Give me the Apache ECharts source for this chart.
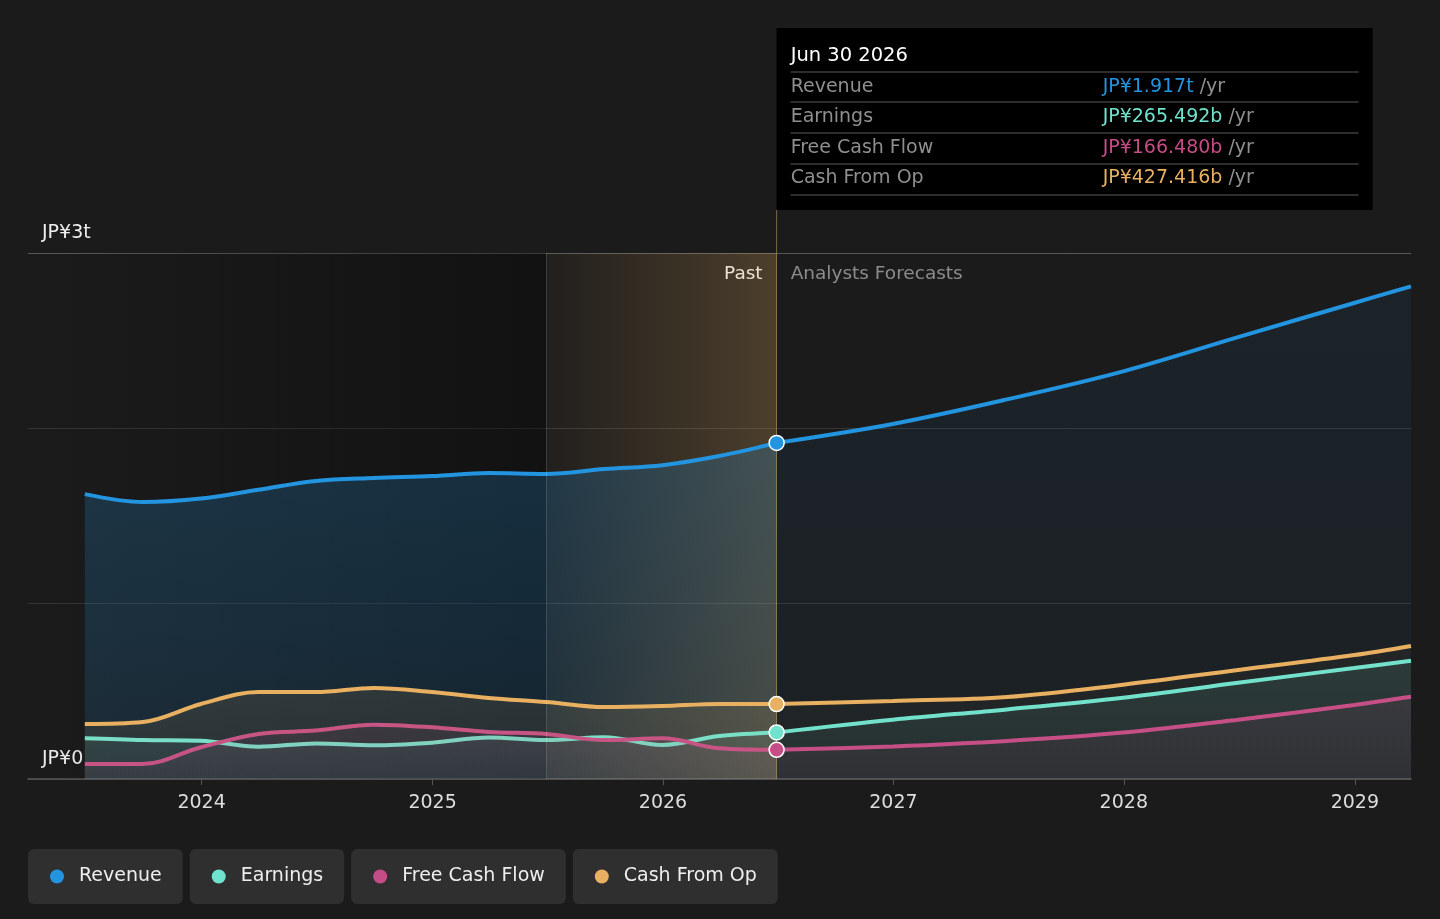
<!DOCTYPE html>
<html>
<head>
    <meta charset="utf-8">
    <title>Revenue / Earnings</title>
    <script src="https://cdn.jsdelivr.net/npm/echarts@6/dist/echarts.min.js"></script>
    <style>
        html, body { margin: 0; padding: 0; background: #1b1b1b; }
        #main { width: 1440px; height: 919px; }
    </style>
</head>
<body>
<div id="main"></div>
<script type="text/javascript">
    // 数据（单位：万亿日元）
    var dates = ['2023-06-30', '2023-09-30', '2023-12-31', '2024-03-31', '2024-06-30', '2024-09-30',
        '2024-12-31', '2025-03-31', '2025-06-30', '2025-09-30', '2025-12-31', '2026-03-31', '2026-06-30',
        '2026-12-31', '2027-06-30', '2027-12-31', '2028-06-30', '2028-12-31', '2029-03-31'];
    var revenue = [1.625, 1.58, 1.60, 1.65, 1.70, 1.717, 1.728, 1.745, 1.74, 1.768, 1.79, 1.842, 1.917,
        2.025, 2.165, 2.325, 2.52, 2.715, 2.81];
    var earnings = [0.232, 0.222, 0.218, 0.184, 0.203, 0.192, 0.207, 0.236, 0.222, 0.238, 0.194, 0.245, 0.265492,
        0.338, 0.397, 0.464, 0.549, 0.633, 0.675];
    var fcf = [0.086, 0.086, 0.181, 0.257, 0.276, 0.31, 0.295, 0.268, 0.257, 0.222, 0.232, 0.175, 0.16648,
        0.186, 0.217, 0.265, 0.338, 0.422, 0.469];
    var cfo = [0.314, 0.325, 0.428, 0.496, 0.496, 0.519, 0.496, 0.462, 0.439, 0.41, 0.416, 0.428, 0.427416,
        0.445, 0.468, 0.538, 0.622, 0.707, 0.759];
    var yearTicks = ['2024-01-01', '2025-01-01', '2026-01-01', '2027-01-01', '2028-01-01', '2029-01-01'];

    var names = ['Revenue', 'Earnings', 'Free Cash Flow', 'Cash From Op'];
    var colors = ['#2394df', '#6fe3cf', '#c44c87', '#e8b060'];
    var values = [revenue, earnings, fcf, cfo];
    var xMin = '2023-04-01', xMax = '2029-03-31';
    var highlightStart = '2025-06-30';
    var nowIdx = dates.indexOf('2026-06-30');

    var pastAlpha = [0.32, 0.12, 0.16, 0.16];
    var foreAlpha = [0.10, 0.16, 0.14, 0.05];

    function rgba(hex, a) {
        var n = parseInt(hex.slice(1), 16);
        return 'rgba(' + (n >> 16) + ',' + ((n >> 8) & 255) + ',' + (n & 255) + ',' + a + ')';
    }
    function fmt(v) {
        if (v >= 1) return 'JP¥' + v.toFixed(3) + 't';
        return 'JP¥' + (v * 1000).toFixed(3) + 'b';
    }
    function parseTs(s) {
        var p = s.split('-');
        return Date.UTC(+p[0], +p[1] - 1, +p[2]);
    }

    var series = [];
    for (var k = 0; k < 4; k++) {
        var past = [], fore = [];
        for (var i = 0; i < dates.length; i++) {
            var pt = [parseTs(dates[i]), values[k][i]];
            if (i <= nowIdx) past.push(pt);
            if (i >= nowIdx) {
                if (i === nowIdx) {
                    fore.push({ value: pt, symbol: 'circle', symbolSize: 15 });
                } else {
                    fore.push(pt);
                }
            }
        }
        series.push({
            name: names[k], type: 'line', data: past, smooth: 0.35, symbol: 'none', z: 2 + k * 0.1,
            lineStyle: { color: colors[k], width: 4 },
            itemStyle: { color: colors[k] },
            areaStyle: {
                color: new echarts.graphic.LinearGradient(0, 0, 0, 1, [
                    { offset: 0, color: rgba(colors[k], pastAlpha[k]) },
                    { offset: 1, color: rgba(colors[k], pastAlpha[k] * 0.6) }
                ])
            },
            silent: true
        });
        series.push({
            name: names[k], type: 'line', data: fore, smooth: 0.35, symbol: 'none', z: 5 + k * 0.1,
            lineStyle: { color: colors[k], width: 4 },
            itemStyle: { color: colors[k], borderColor: '#fff', borderWidth: 1.5 },
            areaStyle: {
                color: new echarts.graphic.LinearGradient(0, 0, 0, 1, [
                    { offset: 0, color: rgba(colors[k], foreAlpha[k]) },
                    { offset: 1, color: rgba(colors[k], foreAlpha[k] * 0.6) }
                ])
            },
            silent: true
        });
    }
    // 背景：过去区域
    series.push({
        type: 'line', data: [], z: 1, silent: true,
        markArea: {
            silent: true,
            itemStyle: {
                color: new echarts.graphic.LinearGradient(0, 0, 1, 0, [
                    { offset: 0, color: 'rgba(0,0,0,0)' },
                    { offset: 1, color: 'rgba(0,0,0,0.35)' }
                ])
            },
            data: [[{ xAxis: parseTs(xMin) }, { xAxis: parseTs(highlightStart) }]]
        }
    });
    // 高亮：最近一年
    series.push({
        type: 'line', data: [], z: 4, silent: true,
        markArea: {
            silent: true,
            itemStyle: {
                color: new echarts.graphic.LinearGradient(0, 0, 1, 0, [
                    { offset: 0, color: 'rgba(232,176,96,0.03)' },
                    { offset: 1, color: 'rgba(232,176,96,0.24)' }
                ])
            },
            data: [[{ xAxis: parseTs(highlightStart) }, { xAxis: parseTs(dates[nowIdx]) }]]
        },
        markLine: {
            silent: true, symbol: 'none', label: { show: false },
            data: [
                { xAxis: parseTs(highlightStart), lineStyle: { color: 'rgba(255,255,255,0.14)', width: 1, type: 'solid' } },
                { xAxis: parseTs(dates[nowIdx]), lineStyle: { color: 'rgba(200,165,100,0.55)', width: 1, type: 'solid' } }
            ]
        }
    });

    var rich = { t: { color: '#eeeeee', fontSize: 19, padding: [0, 0, 0, 15] } };
    for (var r = 0; r < 4; r++) {
        rich['d' + r] = { width: 14, height: 14, borderRadius: 7, backgroundColor: colors[r] };
    }

    var myChart = echarts.init(document.getElementById('main'));
    var option = {
        backgroundColor: '#1b1b1b',
        animation: false,
        textStyle: { fontFamily: 'DejaVu Sans' },
        grid: { left: 28, right: 29, top: 253, bottom: 140 },
        xAxis: {
            type: 'value', min: parseTs(xMin), max: parseTs(xMax),
            axisLine: { lineStyle: { color: '#555', width: 1.5 } },
            axisTick: { show: true, length: 6, lineStyle: { color: '#555' }, customValues: yearTicks.map(parseTs) },
            axisLabel: {
                color: '#dddddd', fontSize: 19, margin: 15,
                customValues: yearTicks.map(parseTs),
                formatter: function (v) { return String(new Date(v).getUTCFullYear()); }
            },
            splitLine: { show: false }
        },
        yAxis: {
            type: 'value', min: 0, max: 3, interval: 1,
            axisLine: { show: false }, axisTick: { show: false },
            axisLabel: {
                inside: true, margin: 14, verticalAlign: 'bottom', color: '#eeeeee', fontSize: 19,
                padding: [0, 0, 10, 0],
                formatter: function (v) { return v === 0 ? 'JP¥0' : (v === 3 ? 'JP¥3t' : ''); }
            },
            splitLine: { lineStyle: { color: ['#444', '#353535', '#353535', '#585858'], width: 1 } }
        },
        legend: {
            data: names, left: 17, top: 844, itemGap: 1, itemWidth: 0, itemHeight: 0,
            itemStyle: { opacity: 0 }, selectedMode: false,
            formatter: function (name) { return '{d' + names.indexOf(name) + '| }{t|' + name + '}'; },
            textStyle: {
                backgroundColor: '#2f2f2f', borderRadius: 6, padding: [16, 21, 16, 22],
                lineHeight: 23, rich: rich
            }
        },
        series: series
    };
    myChart.setOption(option);

    // 悬浮框（静态）与文字标签
    var xNow = myChart.convertToPixel({ xAxisIndex: 0 }, parseTs(dates[nowIdx]));
    var yTop = myChart.convertToPixel({ yAxisIndex: 0 }, 3);
    var boxX = xNow, boxY = 28, boxW = 596, boxH = 182;
    var rowY = [87, 117, 148, 178];
    var sepY = [72, 102, 133, 164, 195];
    var g = [
        { type: 'line', silent: true, shape: { x1: xNow, y1: boxY + boxH, x2: xNow, y2: yTop },
          style: { stroke: 'rgba(200,165,100,0.55)', lineWidth: 1 } },
        { type: 'rect', silent: true, shape: { x: boxX, y: boxY, width: boxW, height: boxH }, style: { fill: '#000' } },
        { type: 'text', silent: true, x: boxX + 14, y: 56,
          style: { text: 'Jun 30 2026', fill: '#ffffff', fontSize: 19.5, fontFamily: 'DejaVu Sans', verticalAlign: 'middle' } },
        { type: 'text', silent: true, x: xNow - 14, y: yTop + 21,
          style: { text: 'Past', fill: '#eeeeee', fontSize: 18.5, fontFamily: 'DejaVu Sans', align: 'right', verticalAlign: 'middle' } },
        { type: 'text', silent: true, x: xNow + 14, y: yTop + 21,
          style: { text: 'Analysts Forecasts', fill: '#8c8c8c', fontSize: 18.5, fontFamily: 'DejaVu Sans', verticalAlign: 'middle' } }
    ];
    for (var s = 0; s < sepY.length; s++) {
        g.push({ type: 'line', silent: true, shape: { x1: boxX + 14, y1: sepY[s], x2: boxX + boxW - 14, y2: sepY[s] },
            style: { stroke: '#3c3c3c', lineWidth: 1.5 } });
    }
    for (var j = 0; j < 4; j++) {
        g.push({ type: 'text', silent: true, x: boxX + 14, y: rowY[j],
            style: { text: names[j], fill: '#8f8f8f', fontSize: 19, fontFamily: 'DejaVu Sans', verticalAlign: 'middle' } });
        g.push({ type: 'text', silent: true, x: boxX + 326, y: rowY[j],
            style: {
                text: '{v|' + fmt(values[j][nowIdx]) + '} {u|/yr}', fontSize: 19, fontFamily: 'DejaVu Sans', verticalAlign: 'middle',
                rich: { v: { fill: colors[j], fontSize: 19, fontFamily: 'DejaVu Sans' }, u: { fill: '#8f8f8f', fontSize: 19, fontFamily: 'DejaVu Sans' } }
            } });
    }
    myChart.setOption({ graphic: g });
</script>
</body>
</html>
